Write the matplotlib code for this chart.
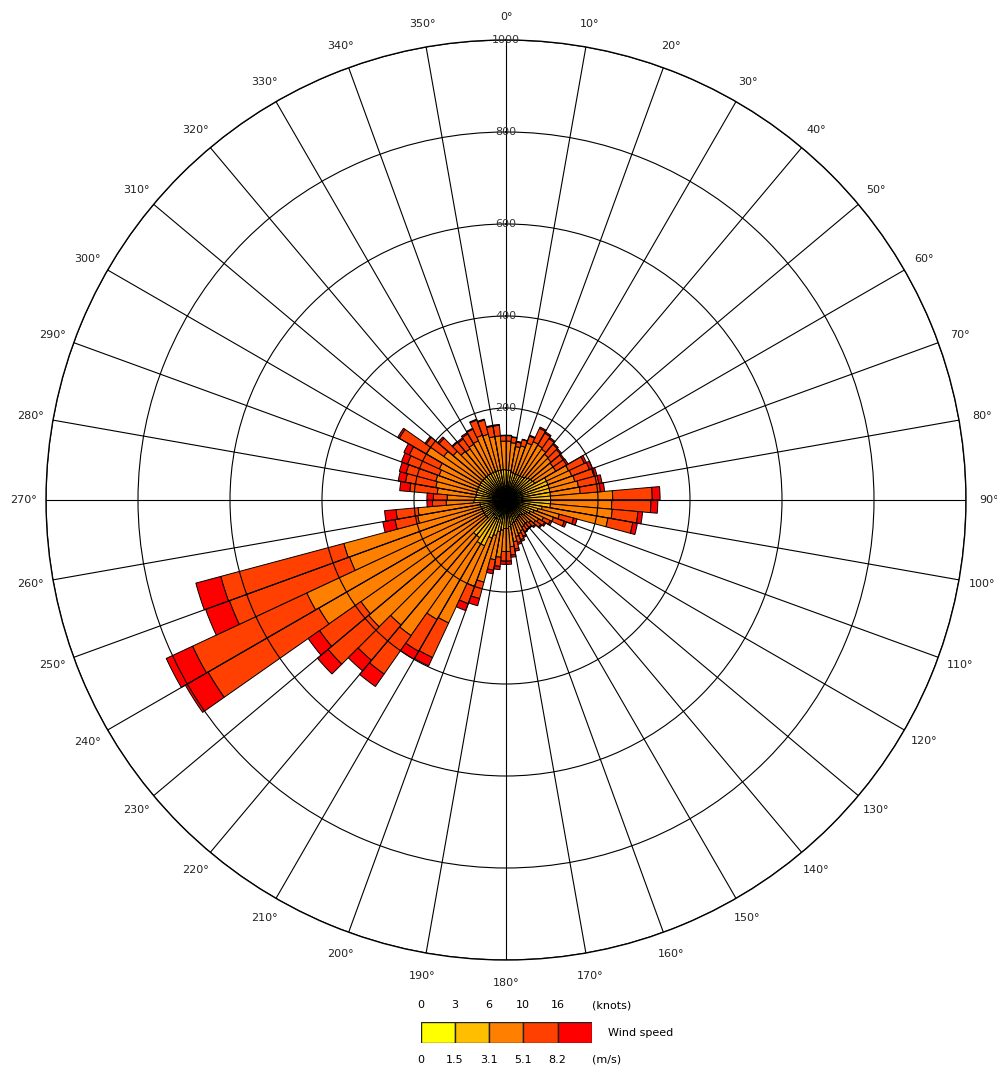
import numpy as np
import matplotlib
matplotlib.use("Agg")
import matplotlib.pyplot as plt

# 72 direction sectors, 5 degrees each (start angle of each sector)
sector_start = np.arange(0, 360, 5)

# frequency per speed class and sector (0-1.5, 1.5-3.1, 3.1-5.1, 5.1-8.2, >8.2 m/s)
cls_0_15 = [30, 30, 28, 28, 26, 25, 25, 25, 25, 26, 28, 28, 35, 35, 35, 35, 35, 35,
            35, 35, 30, 28, 26, 24, 22, 20, 20, 20, 20, 20, 22, 22, 24, 25, 26, 28,
            28, 30, 32, 35, 38, 45, 45, 40, 40, 25, 25, 25, 25, 25, 25, 25, 25, 28,
            28, 28, 28, 28, 28, 28, 28, 28, 28, 28, 28, 28, 28, 28, 28, 28, 28, 30]
cls_15_31 = [35, 35, 34, 32, 34, 35, 35, 37, 40, 42, 42, 44, 62, 62, 62, 62, 62, 62,
             62, 62, 50, 44, 39, 34, 30, 30, 26, 24, 24, 25, 26, 28, 28, 30, 32, 34,
             34, 36, 38, 45, 50, 65, 65, 60, 60, 30, 30, 30, 30, 30, 30, 32, 32, 42,
             40, 38, 38, 38, 38, 38, 38, 38, 38, 38, 38, 38, 38, 38, 38, 38, 38, 36]
cls_31_51 = [63, 60, 56, 62, 72, 80, 78, 73, 65, 60, 55, 53, 53, 55, 58, 63, 65, 135,
             133, 135, 145, 48, 45, 32, 30, 28, 24, 22, 22, 23, 26, 28, 30, 37, 44, 50,
             50, 59, 62, 105, 112, 185, 190, 260, 255, 335, 330, 415, 423, 307, 310, 138, 135, 60,
             60, 84, 89, 92, 89, 94, 134, 99, 84, 72, 70, 74, 76, 84, 82, 74, 74, 62]
cls_51_82 = [12, 12, 10, 14, 16, 32, 30, 28, 28, 27, 27, 27, 38, 41, 43, 45, 44, 86,
             85, 56, 55, 32, 25, 16, 15, 14, 12, 12, 12, 12, 13, 14, 14, 16, 18, 21,
             21, 20, 23, 37, 40, 83, 80, 102, 100, 115, 110, 278, 274, 278, 277, 50, 48, 30,
             30, 60, 67, 67, 73, 72, 68, 47, 40, 26, 26, 26, 28, 35, 32, 23, 23, 12]
cls_82_up = [1, 1, 2, 1, 2, 3, 3, 3, 3, 3, 3, 4, 5, 7, 7, 7, 9, 17,
             15, 10, 10, 8, 5, 4, 3, 3, 3, 2, 2, 2, 3, 4, 4, 5, 5, 7,
             7, 7, 8, 16, 16, 20, 20, 33, 30, 30, 30, 57, 63, 55, 56, 27, 25, 12,
             14, 22, 16, 15, 14, 13, 4, 3, 4, 2, 3, 3, 2, 2, 2, 2, 2, 1]

classes = [cls_0_15, cls_15_31, cls_31_51, cls_51_82, cls_82_up]
class_colors = ["#FFFF00", "#FFBF00", "#FF8000", "#FF4000", "#FF0000"]

knots_labels = ["0", "3", "6", "10", "16"]
ms_labels = ["0", "1.5", "3.1", "5.1", "8.2"]

ring_values = [200, 400, 600, 800, 1000]
dir_ticks = np.arange(0, 360, 10)

fig = plt.figure(figsize=(9.97, 10.68), dpi=100)
ax = fig.add_axes([46 / 997, 108 / 1068, 920 / 997, 920 / 1068], projection="polar")
ax.set_theta_zero_location("N")
ax.set_theta_direction(-1)

theta = np.deg2rad(sector_start + 2.5)
width = np.deg2rad(5)
bottom = np.zeros(len(sector_start))
for vals, col in zip(classes, class_colors):
    vals = np.array(vals, dtype=float)
    ax.bar(theta, vals, width=width, bottom=bottom, color=col,
           edgecolor="black", linewidth=0.7, align="center")
    bottom = bottom + vals

ax.set_ylim(0, 1000)
ax.set_rgrids(ring_values, labels=[])
ax.set_thetagrids(dir_ticks, labels=[])
ax.set_axisbelow(False)
ax.grid(True, color="black", linewidth=0.8)
ax.spines["polar"].set_color("black")
ax.spines["polar"].set_linewidth(1.0)
ax.tick_params(length=0)

for d in dir_ticks:
    ax.text(np.deg2rad(d), 1050, f"{d}°", ha="center", va="center",
            fontsize=8, color="#222222", clip_on=False)

for r in ring_values:
    ax.text(0, r, str(r), ha="center", va="center", fontsize=8,
            color="#333333", zorder=5)

# legend
leg = fig.add_axes([420.7 / 997, (1068 - 1043.3) / 1068, 171 / 997, 21.6 / 1068])
leg.bar(np.arange(5), np.ones(5), width=1, align="edge", color=class_colors,
        edgecolor="#222222", linewidth=1)
leg.set_xlim(0, 5)
leg.set_ylim(0, 1)
leg.axis("off")
for i, (k, m) in enumerate(zip(knots_labels, ms_labels)):
    leg.text(i, 1.77, k, ha="center", va="center", fontsize=8, clip_on=False)
    leg.text(i, -0.77, m, ha="center", va="center", fontsize=8, clip_on=False)
leg.text(5.0, 1.77, "(knots)", ha="left", va="center", fontsize=8, clip_on=False)
leg.text(5.0, -0.77, "(m/s)", ha="left", va="center", fontsize=8, clip_on=False)
leg.text(5.48, 0.5, "Wind speed", ha="left", va="center", fontsize=8, clip_on=False)

fig.savefig("out.png", dpi=100)
